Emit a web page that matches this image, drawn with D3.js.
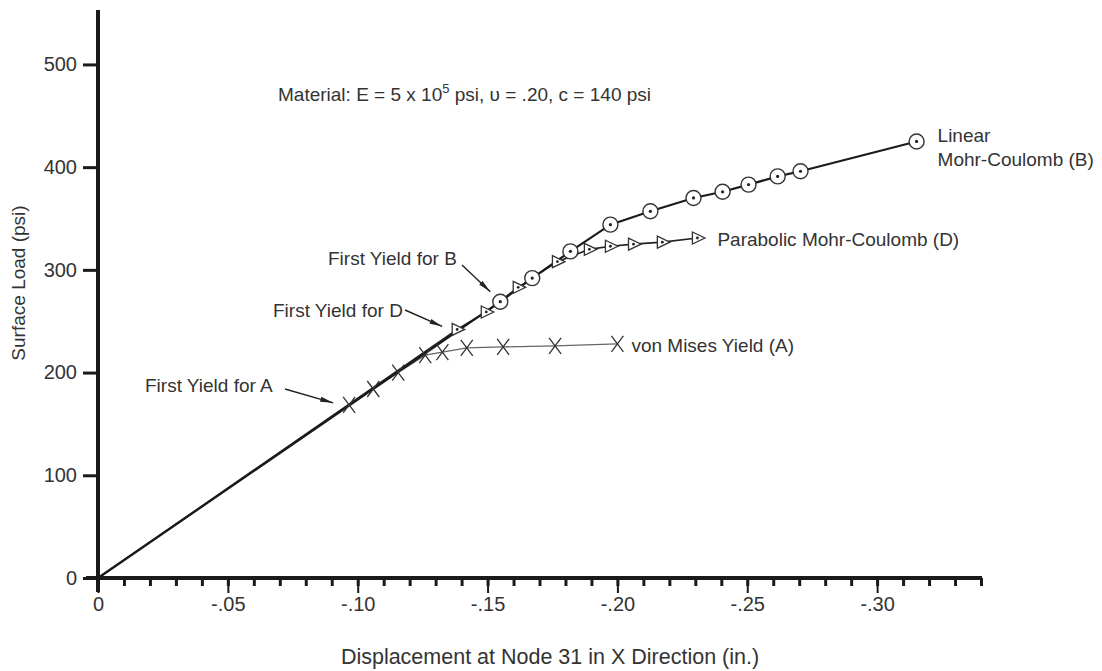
<!DOCTYPE html>
<html>
<head>
<meta charset="utf-8">
<script src="https://cdn.jsdelivr.net/npm/d3@7"></script>
<style>
  html, body { margin: 0; padding: 0; background: #fff; }
  svg { display: block; }
  text { font-family: "Liberation Sans", Arial, sans-serif; fill: #333; }
</style>
</head>
<body>
<svg id="chart" width="1102" height="671"></svg>
<script>
// Load-displacement curves, displacement in inches (negative X), load in psi
const vonMisesX = [0, -0.0967, -0.106, -0.1156, -0.126, -0.1326, -0.142, -0.156, -0.176, -0.200];
const vonMisesY = [0, 168.6, 184, 200, 217, 220, 224, 225, 226, 228];

const parabolicX = [0, -0.1383, -0.1495, -0.1618, -0.1769, -0.1892, -0.1973, -0.2062, -0.2173, -0.2308];
const parabolicY = [0, 242, 259, 283, 308, 320, 323, 325, 327, 331];

const linearX = [0, -0.1549, -0.1672, -0.1819, -0.1973, -0.2127, -0.2293, -0.2405, -0.2505, -0.2617, -0.2705, -0.3152];
const linearY = [0, 269, 292, 318, 344, 357, 370, 376, 383, 391, 396, 425];

const xMajorTicks = [0, -0.05, -0.10, -0.15, -0.20, -0.25, -0.30];
const xTickLabels = ["0", "-.05", "-.10", "-.15", "-.20", "-.25", "-.30"];
const xMinorTicks = d3.range(0, 35).map(i => -i / 100);
const yTicks = [0, 100, 200, 300, 400, 500];

const svg = d3.select("#chart");
const x = d3.scaleLinear().domain([0, -0.34]).range([98, 981]);
const y = d3.scaleLinear().domain([0, 553]).range([578, 10]);

const zip = (xs, ys) => xs.map((v, i) => [v, ys[i]]);
const A = zip(vonMisesX, vonMisesY);
const D = zip(parabolicX, parabolicY);
const B = zip(linearX, linearY);

const line = d3.line().x(d => x(d[0])).y(d => y(d[1]));
const FONT = "Liberation Sans, Arial, sans-serif";

// arrowhead marker
svg.append("defs").append("marker")
  .attr("id", "arrow").attr("viewBox", "0 0 13 6")
  .attr("refX", 13).attr("refY", 3)
  .attr("markerWidth", 13).attr("markerHeight", 6)
  .attr("markerUnits", "userSpaceOnUse")
  .attr("orient", "auto")
  .append("path").attr("d", "M0,0.5 L13,3 L0,5.5 Z").attr("fill", "#222");

// curves
svg.append("path").datum(A).attr("d", line)
  .attr("fill", "none").attr("stroke", "#666").attr("stroke-width", 1.3);
svg.append("path").datum(D).attr("d", line)
  .attr("fill", "none").attr("stroke", "#222").attr("stroke-width", 1.7);
svg.append("path").datum(B).attr("d", line)
  .attr("fill", "none").attr("stroke", "#1a1a1a").attr("stroke-width", 2.2);

// X markers for von Mises
const gA = svg.append("g").selectAll("g").data(A.slice(1)).join("g")
  .attr("transform", d => `translate(${x(d[0])},${y(d[1])})`);
gA.append("path").attr("d", "M-6,-8 L6,8 M6,-8 L-6,8")
  .attr("stroke", "#333").attr("stroke-width", 1.3).attr("fill", "none");

// right-pointing triangles for parabolic Mohr-Coulomb
const gD = svg.append("g").selectAll("g").data(D.slice(1)).join("g")
  .attr("transform", d => `translate(${x(d[0])},${y(d[1])})`);
gD.append("path").attr("d", "M-5,-6 L7.5,0 L-5,6 Z")
  .attr("fill", "#fff").attr("stroke", "#333").attr("stroke-width", 1.3);
gD.append("circle").attr("r", 1.4).attr("fill", "#222");

// circles for linear Mohr-Coulomb
const gB = svg.append("g").selectAll("g").data(B.slice(1)).join("g")
  .attr("transform", d => `translate(${x(d[0])},${y(d[1])})`);
gB.append("circle").attr("r", 7.5)
  .attr("fill", "#fff").attr("stroke", "#333").attr("stroke-width", 1.4);
gB.append("circle").attr("r", 1.6).attr("fill", "#222");

// axes
const yAxis = d3.axisLeft(y).tickValues(yTicks).tickSize(15).tickPadding(6);
const gy = svg.append("g").attr("transform", `translate(${x(0)},0)`).call(yAxis);
gy.select(".domain").attr("d", `M0,${y(0) + 14}V10`).attr("stroke", "#1a1a1a").attr("stroke-width", 4);
gy.selectAll(".tick line").attr("stroke", "#1a1a1a").attr("stroke-width", 3);
gy.selectAll(".tick text").attr("font-size", 20).attr("fill", "#555").attr("font-family", FONT);

const xMinor = d3.axisBottom(x).tickValues(xMinorTicks).tickSize(8).tickFormat("");
const gxm = svg.append("g").attr("transform", `translate(0,${y(0)})`).call(xMinor);
gxm.select(".domain").remove();
gxm.selectAll(".tick line").attr("stroke", "#1a1a1a").attr("stroke-width", 3);

const xAxis = d3.axisBottom(x).tickValues(xMajorTicks).tickSize(15).tickPadding(4)
  .tickFormat((d, i) => xTickLabels[i]);
const gx = svg.append("g").attr("transform", `translate(0,${y(0)})`).call(xAxis);
gx.select(".domain").attr("d", `M${x(0) - 12},0H${x(-0.34) + 1}`).attr("stroke", "#1a1a1a").attr("stroke-width", 4);
gx.selectAll(".tick line").attr("stroke", "#1a1a1a").attr("stroke-width", 2);
gx.selectAll(".tick text").attr("font-size", 20).attr("fill", "#555").attr("font-family", FONT);

// axis titles
svg.append("text").attr("x", 550).attr("y", 664).attr("text-anchor", "middle")
  .attr("font-size", 21.5).text("Displacement at Node 31 in X Direction (in.)");
svg.append("text").attr("transform", "translate(25,283) rotate(-90)")
  .attr("text-anchor", "middle").attr("font-size", 19).attr("fill", "#555").text("Surface Load (psi)");

// material note
const mat = svg.append("text").attr("x", 278).attr("y", 101).attr("font-size", 19);
mat.append("tspan").text("Material: E = 5 x 10");
mat.append("tspan").attr("font-size", 13).attr("dy", -8).text("5");
mat.append("tspan").attr("dy", 8).text(" psi, \u03C5 = .20, c = 140 psi");

// curve labels
const lastB = B[B.length - 1], lastD = D[D.length - 1], lastA = A[A.length - 1];
svg.append("text").attr("x", x(lastB[0]) + 21).attr("y", y(lastB[1]) + 1).attr("font-size", 19).text("Linear");
svg.append("text").attr("x", x(lastB[0]) + 21).attr("y", y(lastB[1]) + 25).attr("font-size", 19).text("Mohr-Coulomb (B)");
svg.append("text").attr("x", x(lastD[0]) + 20).attr("y", y(lastD[1]) + 8).attr("font-size", 19).text("Parabolic Mohr-Coulomb (D)");
svg.append("text").attr("x", x(lastA[0]) + 14).attr("y", y(lastA[1]) + 8).attr("font-size", 19).text("von Mises Yield (A)");

// first-yield callouts
const callouts = [
  { label: "First Yield for A", pt: A[1], tx: 145, ty: 392, from: [285, 389], off: [-16, -2] },
  { label: "First Yield for D", pt: D[1], tx: 273, ty: 317, from: [405, 310], off: [-15, -3] },
  { label: "First Yield for B", pt: B[1], tx: 328, ty: 265, from: [462, 265], off: [-10, -10] }
];
callouts.forEach(c => {
  svg.append("text").attr("x", c.tx).attr("y", c.ty).attr("font-size", 19).text(c.label);
  svg.append("line")
    .attr("x1", c.from[0]).attr("y1", c.from[1])
    .attr("x2", x(c.pt[0]) + c.off[0]).attr("y2", y(c.pt[1]) + c.off[1])
    .attr("stroke", "#222").attr("stroke-width", 1.4)
    .attr("marker-end", "url(#arrow)");
});
</script>
</body>
</html>
